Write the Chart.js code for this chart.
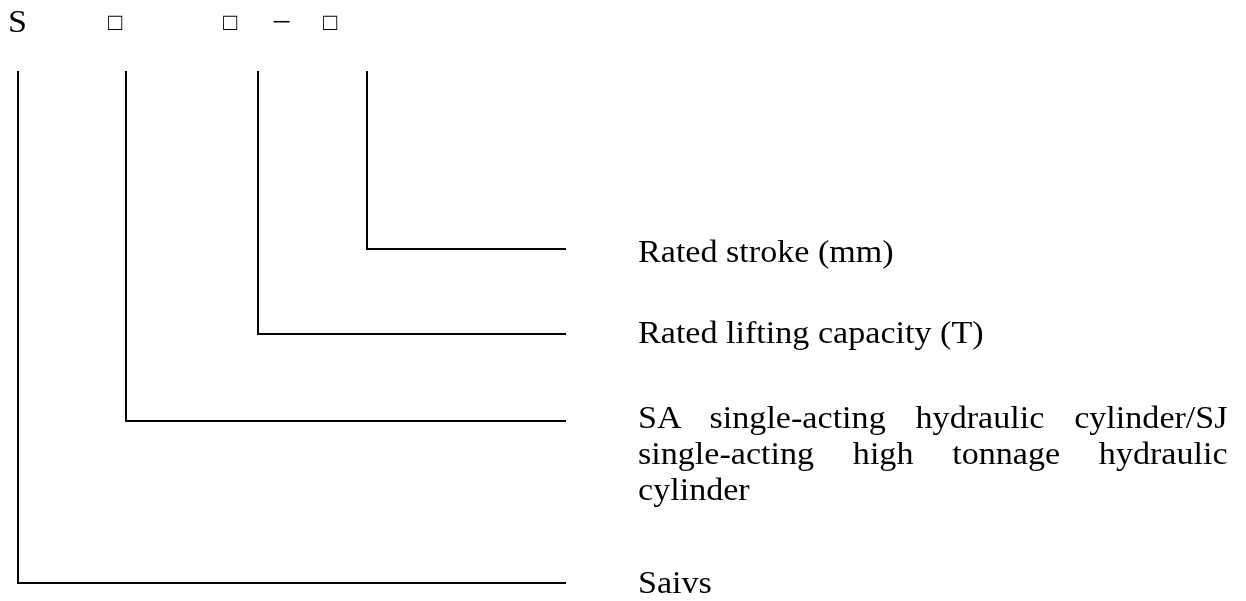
<!DOCTYPE html>
<html lang="en">
<head>
    <meta charset="UTF-8">
    <title>Model code - SA/SJ hydraulic cylinder</title>
    <script src="https://cdn.jsdelivr.net/npm/chart.js"></script>
    <style>
        body { margin: 0; background: #fff; font-family: "Liberation Serif", "Times New Roman", serif; color: #000; }
        #wrap { position: relative; width: 1246px; height: 601px; overflow: hidden; }
        #diagram { position: absolute; left: 0; top: 0; }
        .txt { position: absolute; font-size: 31px; line-height: 36px; white-space: nowrap; }
        /* source text is a little wide for its height */
        .wide { transform: scaleX(1.1); transform-origin: 0 0; }
        .sym { font-size: 24px; }
        .para { white-space: normal; text-align: justify; width: 536px; }
        .para span { white-space: nowrap; }
    </style>
</head>
<body>
    <div id="wrap">
        <canvas id="diagram" width="1246" height="601"></canvas>
    </div>

    <script>
        // code parts along the top row, left to right
        const codeParts = ["S", "□", "□", "−", "□"];
        // what each branch means (branch 0 = leftmost leader)
        const meanings = [
            "Saivs",
            "SA single-acting hydraulic cylinder/SJ single-acting high tonnage hydraulic cylinder",
            "Rated lifting capacity (T)",
            "Rated stroke (mm)"
        ];
        // leader geometry in diagram units (page is 1246 x 601 units)
        const leaderX = [18, 126, 258, 367];
        const elbowY = [583, 421, 334, 249];
        const leaderTop = 71;
        const leaderEnd = 566;

        // text placement (left, top)
        const codePos = [[8, 4], [108, 4], [223, 4], [272, 4], [323, 4]];
        const meaningPos = [[638, 565], [638, 400], [638, 315], [638, 234]];

        const wrap = document.getElementById("wrap");
        function addText(str, pos, cls) {
            const d = document.createElement("div");
            d.className = "txt " + cls;
            d.style.left = pos[0] + "px";
            d.style.top = pos[1] + "px";
            if (cls.includes("para")) {
                // keep hyphenated words whole
                str.split(" ").forEach((w, i) => {
                    if (i) d.appendChild(document.createTextNode(" "));
                    const s = document.createElement("span");
                    s.textContent = w;
                    d.appendChild(s);
                });
            } else {
                d.textContent = str;
            }
            wrap.appendChild(d);
        }
        codeParts.forEach((c, i) => addText(c, codePos[i], c === "□" ? "sym" : "wide"));
        meanings.forEach((m, i) => addText(m, meaningPos[i], m.length > 40 ? "wide para" : "wide"));

        const datasets = leaderX.map((x, i) => ({
            data: [
                { x: x, y: leaderTop },
                { x: x, y: elbowY[i] },
                { x: leaderEnd, y: elbowY[i] }
            ],
            borderColor: "#000",
            borderWidth: 2,
            pointRadius: 0,
            tension: 0,
            fill: false
        }));

        new Chart(document.getElementById("diagram").getContext("2d"), {
            type: "line",
            data: { datasets: datasets },
            options: {
                responsive: false,
                animation: false,
                layout: { padding: 0 },
                plugins: { legend: { display: false }, tooltip: { enabled: false } },
                scales: {
                    x: { type: "linear", min: 0, max: 1246, display: false },
                    y: { type: "linear", min: 0, max: 601, reverse: true, display: false }
                }
            }
        });
    </script>
</body>
</html>
